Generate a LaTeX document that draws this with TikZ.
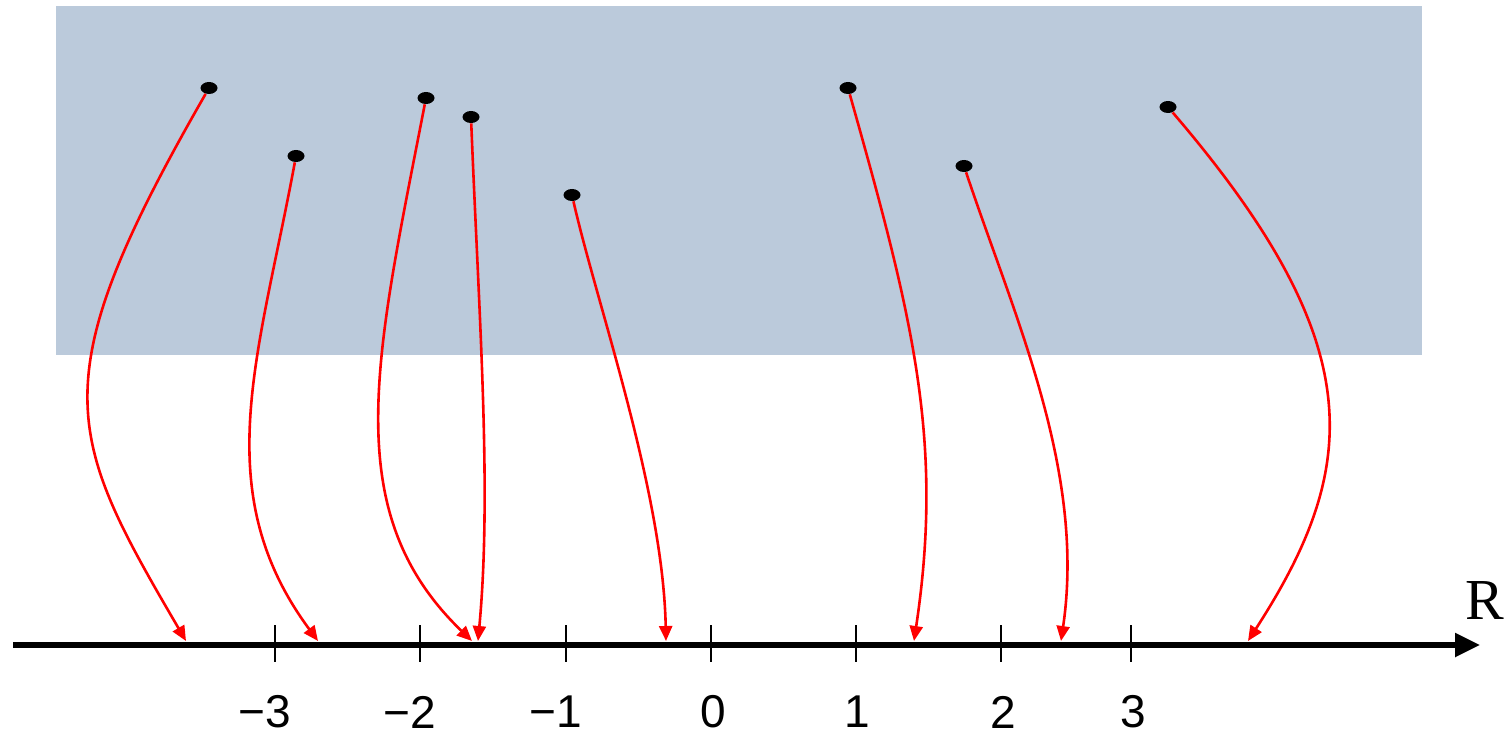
\documentclass[tikz,border=0pt]{standalone}
\usepackage{fontspec}
\setmainfont{Liberation Serif}
\newfontfamily\labelfont{Liberation Sans}
\usetikzlibrary{arrows.meta,shapes.geometric}
\definecolor{domainblue}{HTML}{BBCADB}
\tikzset{
  pt/.style={ellipse,fill=black,inner sep=0pt,minimum width=8.5pt,minimum height=6pt},
  maparrow/.style={red,line width=1.3pt,-{Triangle[length=7.5pt,width=6.5pt]}},
  ticklbl/.style={font=\labelfont\fontsize{23}{23}\selectfont,inner sep=0pt}
}

\begin{document}
\begin{tikzpicture}[x=.5pt,y=-.5pt,>=Stealth]
\useasboundingbox (0,0) rectangle (1506,738);
\fill[domainblue] (56,6) rectangle (1422,355);
% real line
\coordinate (ax0) at (13,645);
\coordinate (ax1) at (1480,645);
\draw[line width=2.8pt,-{Triangle[length=12.5pt,width=11.5pt]}] (ax0)--(ax1);
\node[font=\fontsize{29}{29}\selectfont,inner sep=0pt] (R) at (1485,601) {R};
\foreach \x in {275,420,566,711,856,1001,1131}
  \draw[line width=.75pt] (\x,625)--(\x,662);
\node[ticklbl] (m3) at (265,712) {−3};
\node[ticklbl] (m2) at (410,712) {−2};
\node[ticklbl] (m1) at (556,712) {−1};
\node[ticklbl] (z0) at (713,712) {0};
\node[ticklbl] (p1) at (857,712) {1};
\node[ticklbl] (p2) at (1003,712) {2};
\node[ticklbl] (p3) at (1133,712) {3};
% points of the domain
\node[pt] (d1) at (209,88) {};
\node[pt] (d2) at (296,156) {};
\node[pt] (d3) at (426,98) {};
\node[pt] (d4) at (471,117) {};
\node[pt] (d5) at (572,195) {};
\node[pt] (d6) at (848,88) {};
\node[pt] (d7) at (964,166) {};
\node[pt] (d8) at (1168,107) {};
% images on the line
\coordinate (e1) at (186,641);
\coordinate (e2) at (318,641);
\coordinate (e3) at (472,641);
\coordinate (e4) at (478,641);
\coordinate (e5) at (666,641);
\coordinate (e6) at (914,641);
\coordinate (e7) at (1061,641);
\coordinate (e8) at (1248,641);
\draw[maparrow] (d1) .. controls +(-169,294) and +(-121,-207) .. (e1);
\draw[maparrow] (d2) .. controls +(-37,200) and +(-111,-150) .. (e2);
\draw[maparrow] (d3) .. controls +(-50,258) and +(-135,-130) .. (e3);
\draw[maparrow] (d4) .. controls +(8,200) and +(14,-150) .. (e4);
\draw[maparrow] (d5) .. controls +(25,110) and +(-3,-150) .. (e5);
\draw[maparrow] (d6) .. controls +(65,230) and +(30,-200) .. (e6);
\draw[maparrow] (d7) .. controls +(50,150) and +(25,-170) .. (e7);
\draw[maparrow] (d8) .. controls +(203,237) and +(113,-175) .. (e8);
\end{tikzpicture}
\end{document}
